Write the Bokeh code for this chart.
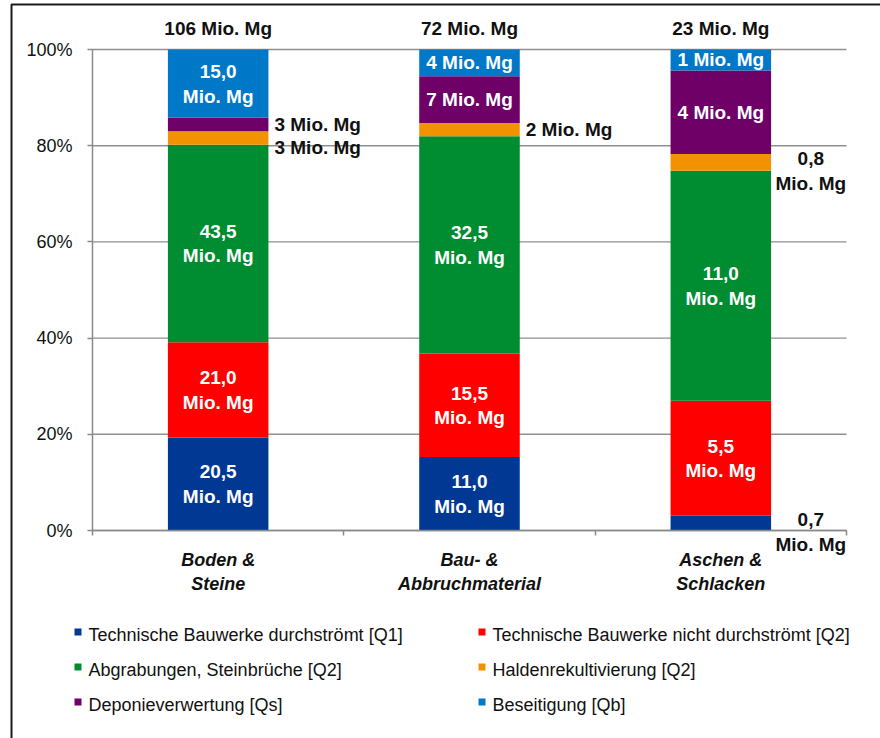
from bokeh.plotting import figure
from bokeh.models import Range1d, LinearAxis, FixedTicker, ColumnDataSource
from bokeh.core.properties import value
from bokeh.embed import file_html
from bokeh.resources import INLINE

# ---------------- data ----------------
categories = ["Boden & Steine", "Bau- & Abbruchmaterial", "Aschen & Schlacken"]
category_labels = ["Boden &\nSteine", "Bau- &\nAbbruchmaterial", "Aschen &\nSchlacken"]

series_keys = ["q1", "q2_nicht", "abgrabungen", "halden", "deponie", "beseitigung"]
series_names = [
    "Technische Bauwerke durchströmt [Q1]",
    "Technische Bauwerke nicht durchströmt [Q2]",
    "Abgrabungen, Steinbrüche [Q2]",
    "Haldenrekultivierung [Q2]",
    "Deponieverwertung [Qs]",
    "Beseitigung [Qb]",
]
series_colors = ["#003893", "#FF0000", "#008C30", "#F39200", "#6E0068", "#0078C8"]

# Mio. Mg per category
q1 = [20.5, 11.0, 0.7]
q2_nicht = [21.0, 15.5, 5.5]
abgrabungen = [43.5, 32.5, 11.0]
halden = [3.0, 2.0, 0.8]
deponie = [3.0, 7.0, 4.0]
beseitigung = [15.0, 4.0, 1.0]

y_ticks = [0, 20, 40, 60, 80, 100]
y_tick_labels = ["0%", "20%", "40%", "60%", "80%", "100%"]

# label placement style per segment (layout only)
label_modes = {
    "q1": ["in2", "in2", "out2"],
    "q2_nicht": ["in2", "in2", "in2"],
    "abgrabungen": ["in2", "in2", "in2"],
    "halden": ["out1", "out1", "out2"],
    "deponie": ["out1", "in1", "in1"],
    "beseitigung": ["in2", "in1", "in1"],
}
label_shift_px = {("halden", 0): 9.5}

# ---------------- geometry ----------------
W, H = 880, 738
PX0, PX_PER_X = 92.0, 251.33      # pixel of x=0, pixels per category
PY0, PX_PER_PCT = 530.0, 4.81     # pixel of 0 %, pixels per percent


def xpx(px):
    return (px - PX0) / PX_PER_X


def ypx(py):
    return (PY0 - py) / PX_PER_PCT


def dxp(px):
    return px / PX_PER_X


def dyp(py):
    return py / PX_PER_PCT


FONT = value("Liberation Sans")

p = figure(width=W, height=H, output_backend="svg", toolbar_location=None,
           x_axis_type=None, y_axis_type=None,
           x_range=Range1d(xpx(0), xpx(W)), y_range=Range1d(ypx(H), ypx(0)),
           min_border=0, min_border_left=0, min_border_right=0,
           min_border_top=0, min_border_bottom=0)
p.outline_line_color = None
p.background_fill_color = "white"
p.border_fill_color = "white"

series_values = {
    "q1": q1, "q2_nicht": q2_nicht, "abgrabungen": abgrabungen,
    "halden": halden, "deponie": deponie, "beseitigung": beseitigung,
}
n = len(categories)
totals = [sum(series_values[k][i] for k in series_keys) for i in range(n)]
centers = [i + 0.5 for i in range(n)]
BAR_W = 0.4

# grid lines (under bars)
p.segment(x0=[0] * len(y_ticks), x1=[n] * len(y_ticks), y0=y_ticks, y1=y_ticks,
          line_color="#8f8f8f", line_width=1.4)

# stacked 100 % bars
data = {"x": centers}
for k in series_keys:
    data[k] = [series_values[k][i] / totals[i] * 100 for i in range(n)]
src = ColumnDataSource(data)
p.vbar_stack(series_keys, x="x", width=BAR_W, color=series_colors, line_color=None, source=src)

# axes
yaxis = LinearAxis(ticker=FixedTicker(ticks=y_ticks), fixed_location=0, bounds=(0, 100),
                   major_label_overrides={t: l for t, l in zip(y_ticks, y_tick_labels)},
                   axis_line_color="#8a8a8a", axis_line_width=1.5,
                   major_tick_line_color="#8a8a8a", major_tick_line_width=1.5,
                   major_tick_out=5, major_tick_in=0, minor_tick_out=0, minor_tick_in=0,
                   major_label_text_font="Liberation Sans", major_label_text_font_size="18px",
                   major_label_text_color="#111111", major_label_standoff=15)
p.add_layout(yaxis, "left")

# x axis: category names on the bar centres, tick marks on the category boundaries
xaxis = LinearAxis(ticker=FixedTicker(ticks=centers, minor_ticks=list(range(n + 1))),
                   fixed_location=0, bounds=(0, n),
                   major_label_overrides={c: l for c, l in zip(centers, category_labels)},
                   axis_line_color="#8a8a8a", axis_line_width=1.5,
                   major_tick_out=0, major_tick_in=0,
                   minor_tick_line_color="#8a8a8a", minor_tick_line_width=1.5,
                   minor_tick_out=5, minor_tick_in=0,
                   major_label_standoff=14,
                   major_label_text_font="Liberation Sans", major_label_text_font_style="bold italic",
                   major_label_text_font_size="18px", major_label_text_color="#111111",
                   major_label_text_line_height=1.2)
p.add_layout(xaxis, "below")


def de(v, dec):
    return f"{v:.{dec}f}".replace(".", ",")


# segment labels
lx, ly, lt, lc, la = [], [], [], [], []
for i in range(n):
    cum = 0.0
    for k in series_keys:
        v = series_values[k][i]
        pct = v / totals[i] * 100
        mid = cum + pct / 2
        cum += pct
        mode = label_modes[k][i]
        shift = label_shift_px.get((k, i), 0)
        mid = mid - dyp(shift)
        if mode == "in2":
            lx += [centers[i]] * 2
            ly += [mid + dyp(12), mid - dyp(12.5)]
            lt += [de(v, 1), "Mio. Mg"]
            lc += ["white"] * 2
            la += ["center"] * 2
        elif mode == "in1":
            lx.append(centers[i]); ly.append(mid)
            lt.append(f"{de(v, 0)} Mio. Mg"); lc.append("white"); la.append("center")
        elif mode == "out1":
            lx.append(centers[i] + BAR_W / 2 + dxp(6)); ly.append(mid)
            lt.append(f"{de(v, 0)} Mio. Mg"); lc.append("#111111"); la.append("left")
        else:  # out2
            lx += [centers[i] + dxp(90)] * 2
            ly += [mid + dyp(4), mid - dyp(21)]
            lt += [de(v, 1), "Mio. Mg"]
            lc += ["#111111"] * 2
            la += ["center"] * 2

# totals on top
for i in range(n):
    lx.append(centers[i]); ly.append(100 + dyp(21))
    lt.append(f"{de(totals[i], 0)} Mio. Mg"); lc.append("#111111"); la.append("center")

lsrc = ColumnDataSource(dict(x=lx, y=ly, text=lt, color=lc, align=la))
p.text(x="x", y="y", text="text", text_color="color", text_align="align", source=lsrc,
       text_baseline="middle", text_font=FONT, text_font_style="bold", text_font_size="19px")

# legend (2 columns x 3 rows)
leg_col_px = [74, 478]
leg_row_px = [632, 667, 702]
gx, gy, tx, ty = [], [], [], []
for idx, name in enumerate(series_names):
    r, c = divmod(idx, 2)
    gx.append(xpx(leg_col_px[c] + 3.5)); gy.append(ypx(leg_row_px[r] - 0.5))
    tx.append(xpx(leg_col_px[c] + 14)); ty.append(ypx(leg_row_px[r] + 2))
p.rect(x=gx, y=gy, width=7, height=7, width_units="screen", height_units="screen",
       fill_color=series_colors, line_color=None)
p.text(x=tx, y=ty, text=series_names, text_align="left", text_baseline="middle",
       text_font=FONT, text_font_size="18px", text_color="#111111")

# chart frame (top and left edge visible)
p.line(x=[xpx(11), xpx(11), xpx(W + 10)], y=[ypx(H + 10), ypx(4), ypx(4)],
       line_color="#1a1a1a", line_width=2)

open("out.html", "w").write(file_html(p, INLINE))
